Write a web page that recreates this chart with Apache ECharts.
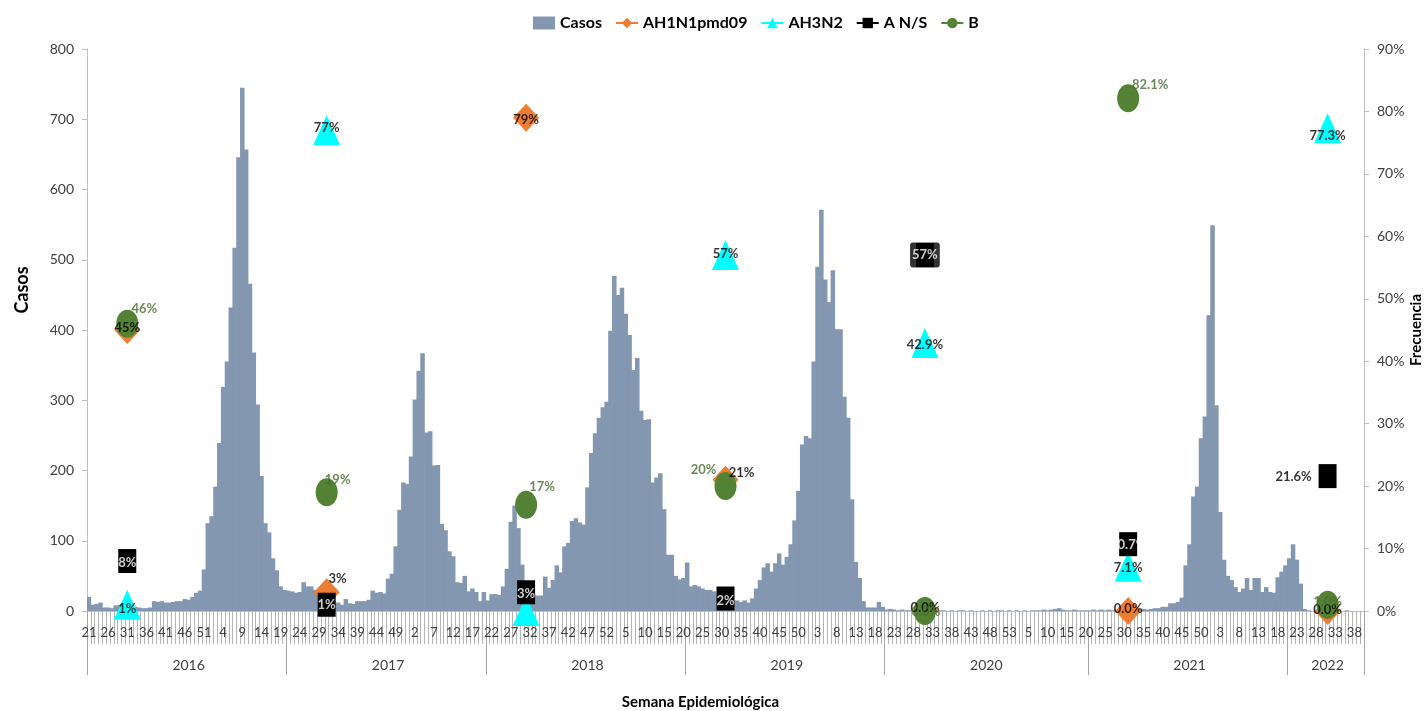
<!DOCTYPE html>
<html>
<head>
<meta charset="utf-8">
<script src="https://cdn.jsdelivr.net/npm/echarts@6/dist/echarts.min.js"></script>
<style>
html,body{margin:0;padding:0;background:#ffffff;}
#chart{width:1424px;height:711px;}
</style>
</head>
<body>
<div id="chart"></div>
<script>
// ---------------- DATA ----------------
const firstWeek = {year: 2016, week: 21};
const lastWeek = {year: 2022, week: 40};
const weeksInYear = {2016: 52, 2017: 52, 2018: 52, 2019: 52, 2020: 53, 2021: 52, 2022: 52};
const seasonStartWeek = 21;
const seasonLabels = ['2016', '2017', '2018', '2019', '2020', '2021', '2022'];

// Weekly cases (one value per epidemiological week, 2016-W21 .. 2022-W40)
const casos = [
  20, 9, 10, 12, 5, 5, 4, 8, 8, 7,
  7, 6, 6, 5, 4, 4, 5, 14, 13, 14,
  12, 12, 13, 14, 14, 17, 16, 20, 26, 29,
  59, 125, 135, 177, 239, 319, 355, 432, 517, 646,
  745, 657, 466, 368, 294, 192, 125, 112, 75, 58,
  35, 30, 29, 28, 26, 27, 41, 35, 35, 30,
  25, 22, 20, 16, 12, 12, 9, 17, 11, 10,
  14, 14, 14, 16, 29, 26, 27, 25, 46, 53,
  92, 144, 183, 181, 220, 301, 342, 367, 254, 256,
  207, 208, 124, 115, 85, 78, 41, 40, 50, 28,
  32, 27, 14, 27, 15, 24, 24, 23, 35, 60,
  127, 150, 118, 66, 22, 20, 23, 22, 22, 49,
  33, 44, 65, 55, 92, 97, 128, 132, 126, 123,
  176, 225, 253, 275, 290, 298, 399, 477, 450, 460,
  423, 393, 343, 360, 285, 272, 273, 183, 190, 196,
  145, 80, 80, 50, 45, 47, 69, 35, 37, 35,
  32, 30, 30, 28, 25, 22, 20, 18, 15, 15,
  13, 15, 12, 18, 32, 44, 62, 68, 56, 68,
  82, 66, 77, 95, 129, 171, 237, 249, 246, 355,
  490, 571, 472, 440, 485, 401, 401, 305, 275, 159,
  70, 47, 14, 5, 5, 5, 13, 6, 2, 3,
  2, 1, 2, 1, 1, 2, 1, 1, 0, 1,
  1, 0, 1, 1, 0, 1, 0, 1, 1, 0,
  1, 0, 0, 1, 0, 1, 0, 1, 1, 0,
  1, 0, 1, 0, 1, 0, 1, 1, 1, 2,
  1, 2, 3, 4, 2, 1, 1, 2, 1, 1,
  1, 1, 2, 1, 2, 1, 2, 1, 1, 2,
  1, 1, 2, 1, 2, 3, 2, 3, 4, 4,
  6, 6, 11, 11, 13, 19, 65, 95, 163, 177,
  246, 277, 421, 549, 293, 141, 73, 50, 44, 34,
  27, 32, 47, 30, 47, 47, 27, 34, 27, 26,
  48, 56, 65, 75, 95, 73, 39, 3, 1, 0,
  0, 1, 0, 0, 1, 0, 0, 0, 1, 0,
  0, 0, 0
];

// Subtype frequency (%) sampled in week 31 of each season
const sampleWeek = 31;
const sampleYears = [2016, 2017, 2018, 2019, 2020, 2021, 2022];
const ah1n1 = [45, 3, 79, 21, 0.0, 0.0, 0.0];
const ah3n2 = [1, 77, 0, 57, 42.9, 7.1, 77.3];
const ans   = [8, 1, 3, 2, 57, 10.7, 21.6];
const bVals = [46, 19, 17, 20, 0.0, 82.1, 1.0];
// data-label texts as printed on the chart
const ah1n1Text = ['45%', '3%', '79%', '21%', '0.0%', '0.0%', '0.0%'];
const ah3n2Text = ['1%', '77%', '', '57%', '42.9%', '7.1%', '77.3%'];
const ansText   = ['8%', '1%', '3%', '2%', '57%', '10.7%', '21.6%'];
const bText     = ['46%', '19%', '17%', '20%', '0.0%', '82.1%', '1.0%'];

// Axis ticks
const leftAxis = {min: 0, max: 800, interval: 100};
const rightAxis = {min: 0, max: 90, interval: 10};

// ---------------- BUILD ----------------
const cats = [];
(function () {
  let y = firstWeek.year, w = firstWeek.week;
  while (true) {
    cats.push({year: y, week: w});
    if (y === lastWeek.year && w === lastWeek.week) break;
    w++;
    if (w > weeksInYear[y]) { w = 1; y++; }
  }
})();
const N = cats.length;
const weekLabels = cats.map(c => String(c.week));
const seasonOf = c => (c.week >= seasonStartWeek ? c.year : c.year - 1);

// season band axis: label at middle of each band, tick at band starts
const bandStarts = new Set();
const yearCats = new Array(N).fill('');
seasonLabels.forEach(s => {
  const idx = [];
  cats.forEach((c, i) => { if (String(seasonOf(c)) === s) idx.push(i); });
  if (!idx.length) return;
  bandStarts.add(idx[0]);
  yearCats[idx[0] + Math.floor(idx.length / 2)] = s;
});

const sampleIdx = sampleYears.map(yy => cats.findIndex(c => c.year === yy && c.week === sampleWeek));

// styles (kept separate from the data)
const FONT = 'Lato';
const COL = {bar: '#8497b0', h1: '#ed7d31', h3: '#00ffff', ans: '#000000', b: '#548235', bText: '#466b2b'};
const offH1  = [[0, -2], [11, -13], [0, 2], [16, -7], [0, -3], [0, -2], [0, -1]];
const offH3  = [[0, 4], [0, -2], [0, 2], [0, -1], [0, 2], [0, 1], [0, 8]];
const offANS = [[0, 2], [0, 0], [0, 2], [0, 2], [0, 0], [0, 1], [-34, 1]];
const offB   = [[17, -15], [11, -13], [16, -18], [-22, -16], [1, 1], [22, -14], [0, -3]];

function markerSeries(name, vals, symbol, size, color) {
  const data = new Array(N).fill(null);
  sampleIdx.forEach((ix, k) => { data[ix] = vals[k]; });
  return {
    name, type: 'line', xAxisIndex: 0, yAxisIndex: 1, data,
    symbol, symbolSize: size, showSymbol: true, showAllSymbol: true, connectNulls: false,
    lineStyle: {width: 2, color, opacity: 0},
    itemStyle: {color, opacity: 1},
    label: {show: false}, silent: true, z: 3, animation: false
  };
}

function labelSeries(name, vals, texts, offsets, styleFn) {
  return {
    name: name + '__labels', type: 'scatter', xAxisIndex: 0, yAxisIndex: 1,
    symbolSize: 1, itemStyle: {color: 'rgba(0,0,0,0)'}, silent: true, z: 6, animation: false,
    label: {show: true, position: 'inside', fontFamily: FONT, fontSize: 13, fontWeight: 'bold', color: '#000'},
    data: vals.map((v, k) => ({
      value: [sampleIdx[k], v],
      label: Object.assign({show: texts[k] !== '', position: 'inside', offset: offsets[k], formatter: texts[k] || ' '}, styleFn(k))
    }))
  };
}

const option = {
  animation: false,
  textStyle: {fontFamily: FONT},
  legend: {
    top: 10, left: 528, itemWidth: 22, itemHeight: 13, itemGap: 13,
    textStyle: {fontFamily: FONT, fontSize: 16, fontWeight: 'bold', color: '#000'},
    data: [
      {name: 'Casos', icon: 'rect'},
      {name: 'AH1N1pmd09', lineStyle: {opacity: 1, width: 2}},
      {name: 'AH3N2', lineStyle: {opacity: 1, width: 2}},
      {name: 'A N/S', lineStyle: {opacity: 1, width: 2}},
      {name: 'B', lineStyle: {opacity: 1, width: 2}}
    ]
  },
  grid: {left: 87, right: 60, top: 49, bottom: 100, containLabel: false, outerBoundsMode: 'none'},
  xAxis: [
    {
      type: 'category', data: weekLabels, boundaryGap: true,
      axisLine: {show: true, lineStyle: {color: '#bfbfbf', width: 1}},
      axisTick: {show: true, interval: 0, length: 33, lineStyle: {color: '#b4b4b4', width: 1}},
      axisLabel: {interval: 4, margin: 15, fontFamily: FONT, fontSize: 13, color: '#404040'},
      splitLine: {show: false},
      name: 'Semana Epidemiológica', nameLocation: 'middle', nameGap: 84,
      nameTextStyle: {fontFamily: FONT, fontSize: 15, fontWeight: 'bold', color: '#000', padding: [0, 50, 0, 0]}
    },
    {
      type: 'category', data: yearCats, boundaryGap: true, position: 'bottom', gridIndex: 0,
      axisLine: {show: false},
      axisTick: {show: true, length: 64, interval: (i) => bandStarts.has(i), lineStyle: {color: '#a6a6a6', width: 1}},
      axisLabel: {interval: (i, v) => v !== '', margin: 47, fontFamily: FONT, fontSize: 14, color: '#404040'},
      splitLine: {show: false}
    }
  ],
  yAxis: [
    {
      type: 'value', position: 'left', min: leftAxis.min, max: leftAxis.max, interval: leftAxis.interval,
      axisLine: {show: true, lineStyle: {color: '#bfbfbf'}},
      axisTick: {show: true, length: 5, lineStyle: {color: '#bfbfbf'}},
      axisLabel: {fontFamily: FONT, fontSize: 14, color: '#404040', margin: 13},
      splitLine: {show: false},
      name: 'Casos', nameLocation: 'middle', nameGap: 56, nameRotate: 90,
      nameTextStyle: {fontFamily: FONT, fontSize: 18, fontWeight: 'bold', color: '#000', padding: [0, 0, 0, 80]}
    },
    {
      type: 'value', position: 'right', min: rightAxis.min, max: rightAxis.max, interval: rightAxis.interval,
      axisLine: {show: true, lineStyle: {color: '#bfbfbf'}},
      axisTick: {show: true, length: 5, lineStyle: {color: '#bfbfbf'}},
      axisLabel: {fontFamily: FONT, fontSize: 14, color: '#404040', margin: 13, formatter: '{value}%'},
      splitLine: {show: false},
      name: 'Frecuencia', nameLocation: 'middle', nameGap: 52, nameRotate: 90, nameMoveOverlap: false,
      nameTextStyle: {fontFamily: FONT, fontSize: 15, fontWeight: 'bold', color: '#000', align: 'center', verticalAlign: 'middle'}
    }
  ],
  series: [
    {
      name: 'Casos', type: 'bar', xAxisIndex: 0, yAxisIndex: 0, data: casos,
      barWidth: 4.5, itemStyle: {color: COL.bar},
      silent: true, z: 2, animation: false
    },
    markerSeries('AH1N1pmd09', ah1n1, 'diamond', [26, 28], COL.h1),
    markerSeries('AH3N2', ah3n2, 'triangle', [27, 30], COL.h3),
    markerSeries('A N/S', ans, 'rect', [18, 24], COL.ans),
    markerSeries('B', bVals, 'circle', [22, 28], COL.b),
    labelSeries('AH1N1pmd09', ah1n1, ah1n1Text, offH1, () => ({color: '#000'})),
    labelSeries('AH3N2', ah3n2, ah3n2Text, offH3, () => ({color: '#000'})),
    labelSeries('A N/S', ans, ansText, offANS, (k) => {
      if (k === 6) return {color: '#000'};
      if (k === 4) return {color: '#fff', backgroundColor: '#000', padding: [6, 2, 6, 2], borderRadius: 3};
      return {color: '#fff'};
    }),
    labelSeries('B', bVals, bText, offB, () => ({color: COL.bText}))
  ]
};

const chart = echarts.init(document.getElementById('chart'));
chart.setOption(option);
</script>
</body>
</html>
